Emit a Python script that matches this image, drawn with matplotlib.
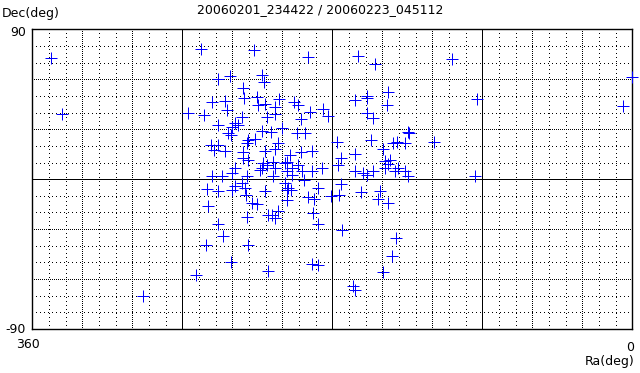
import numpy as np
import matplotlib
matplotlib.use('Agg')
import matplotlib.pyplot as plt

ra = [348.8, 342.0, 266.8, 293.4,
      258.8, 226.8, 248.8, 241.4, 222.4, 220.8, 233.4, 232.8, 252.4, 244.4,
      243.4, 225.4, 224.8, 220.4, 211.8, 214.4, 214.4, 219.4, 256.8, 234.0,
      248.4, 238.4, 236.4, 240.4, 242.4, 241.0, 222.4, 216.8, 210.4, 252.8,
      248.4, 250.8, 244.4, 230.4, 226.4, 231.4, 233.4, 220.4, 214.4, 212.4,
      233.4, 230.4, 238.4, 221.4, 223.4, 219.4, 215.4, 214.4, 208.4, 207.4,
      252.4, 246.4, 240.4, 231.4, 222.4, 215.4,
      255.4, 248.4, 240.4, 238.4, 234.4, 232.4, 231.8, 220.4, 208.4, 207.4,
      207.4, 228.4, 225.4, 254.4, 231.4, 218.8, 216.4, 214.4, 212.4, 248.4,
      245.4, 255.8, 230.8, 241.0, 218.4, 261.8,
      194.4, 164.4, 154.4, 202.8, 200.4, 193.4, 198.8, 185.4, 182.4, 166.4,
      159.4, 159.2, 146.8, 147.0, 159.4, 155.4, 201.4, 196.4, 156.8, 177.4,
      205.4, 198.8, 192.4, 174.8, 166.4, 149.4, 143.4, 141.4, 207.4, 204.4,
      200.4, 198.4, 192.4, 186.0, 176.4, 204.4, 148.4, 146.4, 145.4, 148.4,
      142.4, 166.4, 161.4, 159.4, 155.4,
      196.8, 206.8, 204.8, 188.4, 194.4, 190.8, 181.0, 176.0, 175.0, 162.8,
      151.4, 152.4, 146.8, 191.4, 188.4, 174.0, 142.0, 144.0, 192.4, 188.8,
      149.4, 167.4, 166.4,
      108.0, 0.4, 5.4, 93.4, 134.8, 134.0, 136.4, 118.8, 140.8, 136.4,
      134.4, 94.4]
dec = [72.6, 39.0, 39.6, -70.4,
       78.2, 77.6, 60.2, 62.2, 62.6, 58.2, 54.6, 48.6, 46.6, 47.0,
       41.6, 49.6, 44.6, 45.0, 48.2, 43.6, 39.0, 37.6, 38.6, 37.6,
       32.6, 33.6, 32.6, 31.6, 27.6, 26.6, 29.0, 28.2, 30.6, 20.6,
       20.6, 17.6, 17.0, 23.6, 24.2, 21.6, 16.6, 17.0, 18.2, 21.6,
       12.6, 11.6, 6.6, 9.6, 5.6, 8.6, 10.6, 6.6, 9.6, 4.6,
       1.6, 1.6, 3.6, 1.6, 6.6, 1.6,
       -5.8, -7.0, -6.4, -4.4, -2.4, -5.4, -9.4, -7.0, -2.4, -6.4,
       -12.4, -14.4, -15.0, -16.4, -22.8, -21.4, -21.4, -23.4, -19.4, -27.0,
       -34.0, -39.4, -39.4, -49.8, -55.4, -57.4,
       73.6, 74.2, 69.0, 46.6, 44.6, 40.6, 36.2, 42.2, 38.2, 47.6,
       50.2, 49.0, 52.2, 44.6, 39.6, 37.0, 27.6, 27.6, 23.6, 22.2,
       14.6, 16.2, 17.0, 13.0, 15.0, 18.2, 21.6, 22.2, 10.6, 6.6,
       8.6, 4.6, 4.6, 6.6, 8.6, 2.6, 11.0, 9.0, 11.6, 6.6,
       4.6, 4.6, 3.6, 2.6, 5.0,
       -0.4, -5.4, -6.4, -5.4, -11.0, -11.8, -10.4, -9.8, -3.0, -7.8,
       -7.0, -11.8, -14.4, -20.4, -27.0, -30.4, -35.4, -46.0, -51.0, -51.8,
       -55.8, -64.4, -66.4,
       72.2, 61.2, 44.0, 48.2, 28.2, 27.6, 21.6, 22.2, 6.6, 4.6,
       1.6, 1.6]

title = '20060201_234422 / 20060223_045112'

px = 0.72  # one pixel, in points, at dpi 100

fig = plt.figure(figsize=(6.4, 3.73), dpi=100)
ax = fig.add_axes([32.3 / 640, 1 - 329 / 373, 600 / 640, 299.7 / 373])
ax.set_xlim(360, 0)
ax.set_ylim(-90, 90)

# grid: sparse dots every 10 deg, dense dots every 30 deg, solid every 90 deg
def grid_style(v):
    if v % 90 == 0:
        return '-'
    if v % 30 == 0:
        return (0, (1, 1.5))
    return (0, (1, 3.5))

for v in range(10, 360, 10):
    ax.axvline(v, color='k', lw=px, ls=grid_style(v), antialiased=False, zorder=1)
for v in range(-80, 90, 10):
    ax.axhline(v, color='k', lw=px, ls=grid_style(v), antialiased=False, zorder=1)

ax.plot(ra, dec, ls='none', marker='+', ms=8, mew=px, color='#0000ff',
        antialiased=False, zorder=3, clip_on=False)

ax.set_xticks([]); ax.set_yticks([])
for s in ax.spines.values():
    s.set_linewidth(1.0)
    s.set_color('k')

fs = 9
fig.text(2 / 640, 1 - 7 / 373, 'Dec(deg)', fontsize=fs, ha='left', va='top')
fig.text(0.5, 1 - 3 / 373, title, fontsize=fs, ha='center', va='top')
fig.text(26 / 640, 1 - 32 / 373, '90', fontsize=fs, ha='right', va='center')
fig.text(26 / 640, 1 - 329.5 / 373, '-90', fontsize=fs, ha='right', va='center')
fig.text(28 / 640, 1 - 345 / 373, '360', fontsize=fs, ha='center', va='center')
fig.text(634 / 640, 1 - 347.5 / 373, '0', fontsize=fs, ha='right', va='center')
fig.text(634 / 640, 1 - 362 / 373, 'Ra(deg)', fontsize=fs, ha='right', va='center')

plt.savefig('out.png', dpi=100)
plt.close()
